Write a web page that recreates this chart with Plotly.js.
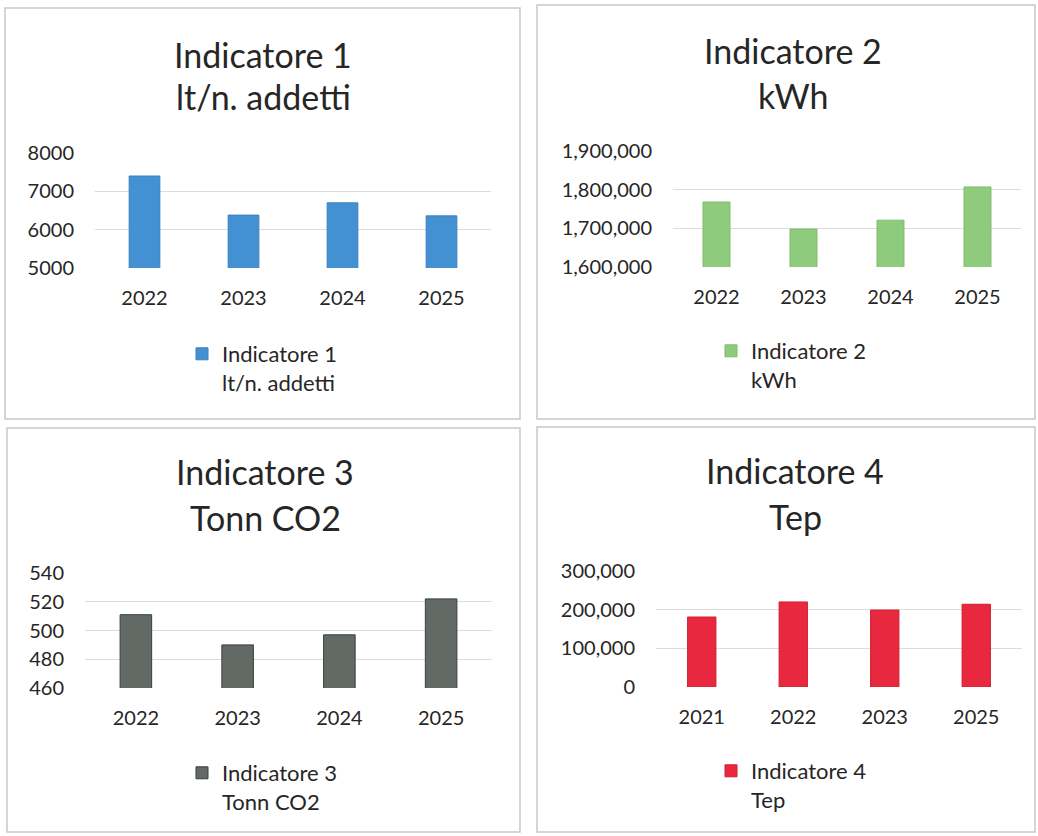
<!DOCTYPE html>
<html><head><meta charset="utf-8">
<script src="https://cdn.plot.ly/plotly-3.0.1.min.js"></script>
<style>html,body{margin:0;padding:0;background:#fff}#chart{width:1038px;height:836px}</style>
</head><body><div id="chart"></div>
<script>
// ---- data ----
const years1 = ['2022', '2023', '2024', '2025'];
const values1 = [7400, 6380, 6700, 6360];
const years2 = ['2022', '2023', '2024', '2025'];
const values2 = [1768000, 1698000, 1721000, 1807000];
const years3 = ['2022', '2023', '2024', '2025'];
const values3 = [511, 490, 497, 522];
const years4 = ['2021', '2022', '2023', '2025'];
const values4 = [181000, 220000, 199000, 214000];
const titleLine1 = ['Indicatore 1', 'Indicatore 2', 'Indicatore 3', 'Indicatore 4'];
const titleLine2 = ['lt/n. addetti', 'kWh', 'Tonn CO2', 'Tep'];

// ---- layout helpers ----
const W = 1038, H = 836;
const fx = x => x / W;
const fy = y => 1 - y / H;
const FONT = 'Lato, "Open Sans", sans-serif';
const TXT = '#262626';

const panels = [
  {years: years1, values: values1, color: '#4391d3', line: '#3a80bd', plot: [95, 491, 153, 268], range: [5000, 8000], dtick: 1000, fmt: 'd', box: [5, 520, 8, 419], title: [263, 54, 96], legend: [182, 333]},
  {years: years2, values: values2, color: '#8ecb7c', line: '#7fbb6d', plot: [673, 1021, 151, 267], range: [1600000, 1900000], dtick: 100000, fmt: ',d', box: [537, 1035, 5, 419], title: [793, 50, 95], legend: [711, 330]},
  {years: years3, values: values3, color: '#636a65', line: '#3a403c', plot: [85, 492, 573, 688], range: [460, 540], dtick: 20, fmt: 'd', box: [7, 520, 428, 832], title: [265, 472, 517], legend: [182, 752]},
  {years: years4, values: values4, color: '#e8283f', line: '#d0202f', plot: [656, 1022, 571, 687], range: [0, 300000], dtick: 100000, fmt: ',d', box: [537, 1035, 427, 832], title: [795, 470, 516], legend: [711, 750]}
];

const data = [];
const layout = {
  width: W, height: H,
  margin: {l: 0, r: 0, t: 0, b: 0},
  paper_bgcolor: '#ffffff', plot_bgcolor: '#ffffff',
  font: {family: FONT, color: TXT},
  showlegend: true,
  annotations: [], shapes: []
};

panels.forEach((p, i) => {
  const n = i + 1;
  const sfx = n === 1 ? '' : String(n);
  data.push({
    type: 'bar', x: p.years, y: p.values,
    xaxis: 'x' + sfx, yaxis: 'y' + sfx,
    name: titleLine1[i] + '<br>' + titleLine2[i],
    legend: 'legend' + sfx,
    marker: {color: p.color, line: {color: p.line, width: 1}},
    width: 0.31,
    hoverinfo: 'x+y'
  });
  layout['xaxis' + sfx] = {
    domain: [fx(p.plot[0]), fx(p.plot[1])],
    anchor: 'y' + sfx, type: 'category',
    showgrid: false, zeroline: false, showline: false,
    ticks: '', ticklabelstandoff: 16,
    tickfont: {family: FONT, size: 20, color: TXT},
    fixedrange: true
  };
  layout['yaxis' + sfx] = {
    domain: [fy(p.plot[3]), fy(p.plot[2])],
    anchor: 'x' + sfx,
    range: p.range, dtick: p.dtick, tick0: p.range[0],
    tickformat: p.fmt,
    showgrid: true, gridcolor: '#dcdcdc', gridwidth: 1,
    zeroline: false, showline: false,
    ticks: '', ticklabelstandoff: 20,
    tickfont: {family: FONT, size: 20, color: TXT},
    fixedrange: true
  };
  layout['legend' + sfx] = {
    x: fx(p.legend[0]), y: fy(p.legend[1]), xanchor: 'left', yanchor: 'top',
    valign: 'top', bgcolor: 'rgba(0,0,0,0)',
    font: {family: FONT, size: 22, color: TXT}
  };
  layout.annotations.push({
    xref: 'paper', yref: 'paper', x: fx(p.title[0]), y: fy(p.title[1]),
    xanchor: 'center', yanchor: 'middle', showarrow: false,
    text: titleLine1[i], font: {family: FONT, size: 34, color: TXT}
  });
  layout.annotations.push({
    xref: 'paper', yref: 'paper', x: fx(p.title[0]), y: fy(p.title[2]),
    xanchor: 'center', yanchor: 'middle', showarrow: false,
    text: titleLine2[i], font: {family: FONT, size: 34, color: TXT}
  });
  layout.shapes.push({
    type: 'rect', xref: 'paper', yref: 'paper',
    x0: fx(p.box[0]), x1: fx(p.box[1]), y0: fy(p.box[3]), y1: fy(p.box[2]),
    line: {color: '#c8c8c8', width: 1.5}, fillcolor: 'rgba(0,0,0,0)', layer: 'below'
  });
});

Plotly.newPlot('chart', data, layout, {displayModeBar: false, staticPlot: true});
</script>
</body></html>
